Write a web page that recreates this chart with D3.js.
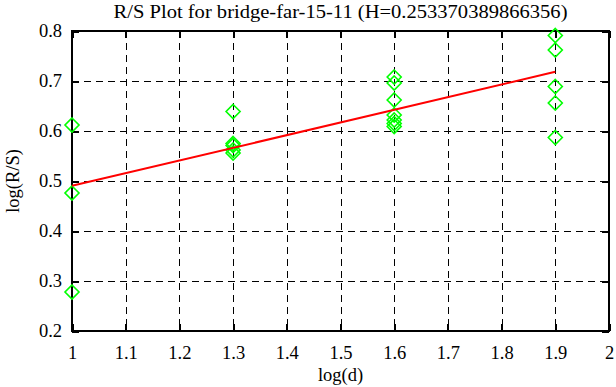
<!DOCTYPE html>
<html><head><meta charset="utf-8">
<script src="https://cdn.jsdelivr.net/npm/d3@7"></script>
<style>body{margin:0;background:#fff}svg{display:block}text{font-family:"Liberation Serif","Times New Roman",serif}</style>
</head><body><svg id="c" width="616" height="387"></svg>
<script>
const titleText = "R/S Plot for bridge-far-15-11 (H=0.253370389866356)";
const xLabel = "log(d)";
const yLabel = "log(R/S)";
const xTicks = [1,1.1,1.2,1.3,1.4,1.5,1.6,1.7,1.8,1.9,2];
const yTicks = [0.2,0.3,0.4,0.5,0.6,0.7,0.8];
const pointsX = [1,1,1, 1.3,1.3,1.3,1.3,1.3, 1.6,1.6,1.6,1.6,1.6,1.6,1.6, 1.9,1.9,1.9,1.9,1.9];
const pointsY = [0.612,0.476,0.278, 0.639,0.575,0.571,0.562,0.556, 0.708,0.696,0.662,0.632,0.622,0.615,0.609, 0.791,0.762,0.689,0.656,0.587];
const slopeH = 0.253370389866356;
const fitIntercept = 0.237;
const fitX = [1,1.9];

const FS = "18.5px";
const svg = d3.select("#c");
const L=72,R=609,T=31,B=331;
const x = d3.scaleLinear().domain([1,2]).range([L,R]);
const y = d3.scaleLinear().domain([0.2,0.8]).range([B,T]);

// grid
svg.append("g").selectAll("line").data(xTicks.slice(1,-1)).join("line")
  .attr("x1",d=>Math.round(x(d))+0.5).attr("x2",d=>Math.round(x(d))+0.5).attr("y1",T).attr("y2",B)
  .attr("stroke","#000").attr("stroke-width",1).attr("stroke-dasharray","7,5").attr("shape-rendering","crispEdges");
svg.append("g").selectAll("line").data(yTicks.slice(1,-1)).join("line")
  .attr("y1",d=>Math.round(y(d))+0.5).attr("y2",d=>Math.round(y(d))+0.5).attr("x1",L).attr("x2",R)
  .attr("stroke","#000").attr("stroke-width",1).attr("stroke-dasharray","7,5").attr("shape-rendering","crispEdges");

// axes with inward ticks, mirrored
const fmt = d=>String(+d.toFixed(1));
const ax = (g)=>{g.select(".domain").remove();g.selectAll("line").attr("stroke","#000").attr("stroke-width",2).attr("shape-rendering","crispEdges");
  g.selectAll("text").attr("font-size",FS).attr("fill","#000").attr("font-family","Liberation Serif, serif");};
svg.append("g").attr("transform",`translate(0,${B})`).call(d3.axisBottom(x).tickValues(xTicks).tickFormat(fmt).tickSizeInner(-7).tickPadding(15)).call(ax);
svg.append("g").attr("transform",`translate(0,${T})`).call(d3.axisTop(x).tickValues(xTicks).tickFormat("").tickSizeInner(-7)).call(ax);
svg.append("g").attr("transform",`translate(${L},0)`).call(d3.axisLeft(y).tickValues(yTicks).tickFormat(fmt).tickSizeInner(-7).tickPadding(10)).call(ax);
svg.append("g").attr("transform",`translate(${R},0)`).call(d3.axisRight(y).tickValues(yTicks).tickFormat("").tickSizeInner(-7)).call(ax);

svg.append("rect").attr("x",L).attr("y",T).attr("width",R-L).attr("height",B-T)
  .attr("fill","none").attr("stroke","#000").attr("stroke-width",2).attr("shape-rendering","crispEdges");

// points (diamonds)
const pts = pointsX.map((v,i)=>[v,pointsY[i]]);
svg.append("g").selectAll("path").data(pts).join("path")
  .attr("d",d=>{const cx=x(d[0]),cy=y(d[1]),s=7;return `M${cx},${cy-s}L${cx+s},${cy}L${cx},${cy+s}L${cx-s},${cy}Z`;})
  .attr("fill","none").attr("stroke","#00ff00").attr("stroke-width",1.6);

// fit line
const line = d3.line().x(d=>x(d)).y(d=>y(fitIntercept+slopeH*d));
svg.append("path").attr("d",line(fitX)).attr("stroke","#ff0000").attr("stroke-width",2).attr("fill","none");

// labels
svg.append("text").attr("x",(L+R)/2).attr("y",18).attr("text-anchor","middle").attr("font-size","19px")
  .attr("textLength",454).attr("lengthAdjust","spacingAndGlyphs").text(titleText);
svg.append("text").attr("x",(L+R)/2).attr("y",381).attr("text-anchor","middle").attr("font-size",FS).text(xLabel);
svg.append("text").attr("transform",`translate(19,${(T+B)/2}) rotate(-90)`).attr("text-anchor","middle").attr("font-size",FS).text(yLabel);
</script></body></html>
